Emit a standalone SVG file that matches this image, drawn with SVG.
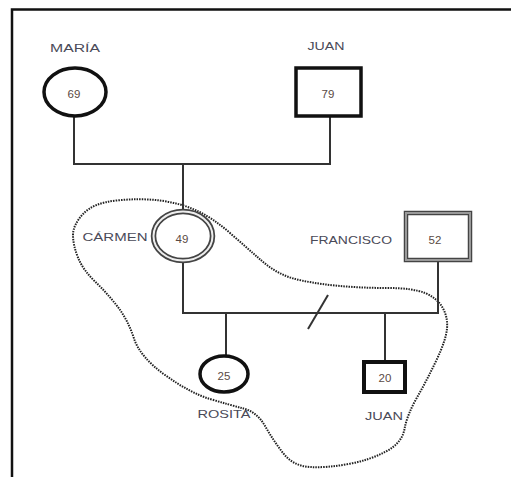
<svg xmlns="http://www.w3.org/2000/svg" width="511" height="477" viewBox="0 0 511 477">
<style>
.lbl{font-family:"Liberation Sans",Arial,sans-serif;font-size:11px;fill:#4a4a58;text-anchor:middle}
.num{font-family:"Liberation Sans",Arial,sans-serif;font-size:11.5px;fill:#5a4a44;text-anchor:middle}
.con{stroke:#333;stroke-width:2;fill:none}
.bold{fill:#fff;stroke:#111;stroke-width:3.5}
</style>
<rect width="511" height="477" fill="#fff"/>
<g id="frame" fill="none" stroke="#111" stroke-width="2.5">
<path d="M12,477 V9.5 H511"/>
</g>
<g id="boundary">
<path d="M73,235 Q73,225 83,214 Q93,203 116.5,200.5 Q140,198 160,200.5 Q180,203 196.5,210.5 Q213,218 230,233 Q247,248 262,261 Q277,274 293.5,278.5 Q310,283 335,285.5 Q360,288 386.5,288 Q413,288 425,293 Q437,298 442.5,307.5 Q448,317 447,328.5 Q446,340 436.5,360 Q427,380 417,397.5 Q407,415 404.5,429 Q402,443 386,451.5 Q370,460 348.5,464 Q327,468 310,467 Q293,466 283,453 Q273,440 265,426 Q257,412 243.5,408.5 Q230,405 210,399 Q190,393 165,375 Q140,357 134,338.5 Q128,320 117.5,306.5 Q107,293 95,281.5 Q83,270 78,257.5 Q73,245 73,235 Z" fill="none" stroke="#222" stroke-width="2" stroke-dasharray="1.5 1.1"/>
</g>
<g id="connectors">
<path class="con" d="M74,117 V164 H330 V117"/>
<path class="con" d="M183,164 V209"/>
<path class="con" d="M183,263 V313 H438 V262"/>
<path class="con" d="M226,313 V355"/>
<path class="con" d="M385,313 V360"/>
<path class="con" d="M308,329 L328,295"/>
</g>
<g id="maria">
<text class="lbl" x="75" y="52" textLength="50" lengthAdjust="spacingAndGlyphs">MARÍA</text>
<ellipse class="bold" cx="75" cy="92" rx="31" ry="24"/>
<text class="num" x="74" y="98">69</text>
</g>
<g id="juan-padre">
<text class="lbl" x="326" y="50" textLength="37" lengthAdjust="spacingAndGlyphs">JUAN</text>
<rect class="bold" x="296" y="68" width="65" height="48"/>
<text class="num" x="328" y="98">79</text>
</g>
<g id="carmen">
<text class="lbl" x="115" y="241" textLength="65" lengthAdjust="spacingAndGlyphs">CÁRMEN</text>
<ellipse cx="183" cy="236" rx="29.5" ry="24.5" fill="#fff" stroke="#444" stroke-width="5.5"/>
<ellipse cx="183" cy="236" rx="29.5" ry="24.5" fill="none" stroke="#eee" stroke-width="2"/>
<text class="num" x="182" y="243">49</text>
</g>
<g id="francisco">
<text class="lbl" x="351" y="244" textLength="82" lengthAdjust="spacingAndGlyphs">FRANCISCO</text>
<rect x="406" y="213" width="64" height="47" fill="#fff" stroke="#444" stroke-width="4.5"/>
<rect x="406" y="213" width="64" height="47" fill="none" stroke="#999" stroke-width="2"/>
<text class="num" x="435" y="244">52</text>
</g>
<g id="rosita">
<ellipse class="bold" cx="224" cy="374" rx="24" ry="18"/>
<text class="num" x="224" y="380">25</text>
<text class="lbl" x="224" y="418" textLength="53" lengthAdjust="spacingAndGlyphs">ROSITA</text>
</g>
<g id="juan-hijo">
<rect x="364" y="362" width="41" height="30" fill="#fff" stroke="#111" stroke-width="4"/>
<text class="num" x="385" y="382">20</text>
<text class="lbl" x="384" y="420" textLength="38" lengthAdjust="spacingAndGlyphs">JUAN</text>
</g>
</svg>
